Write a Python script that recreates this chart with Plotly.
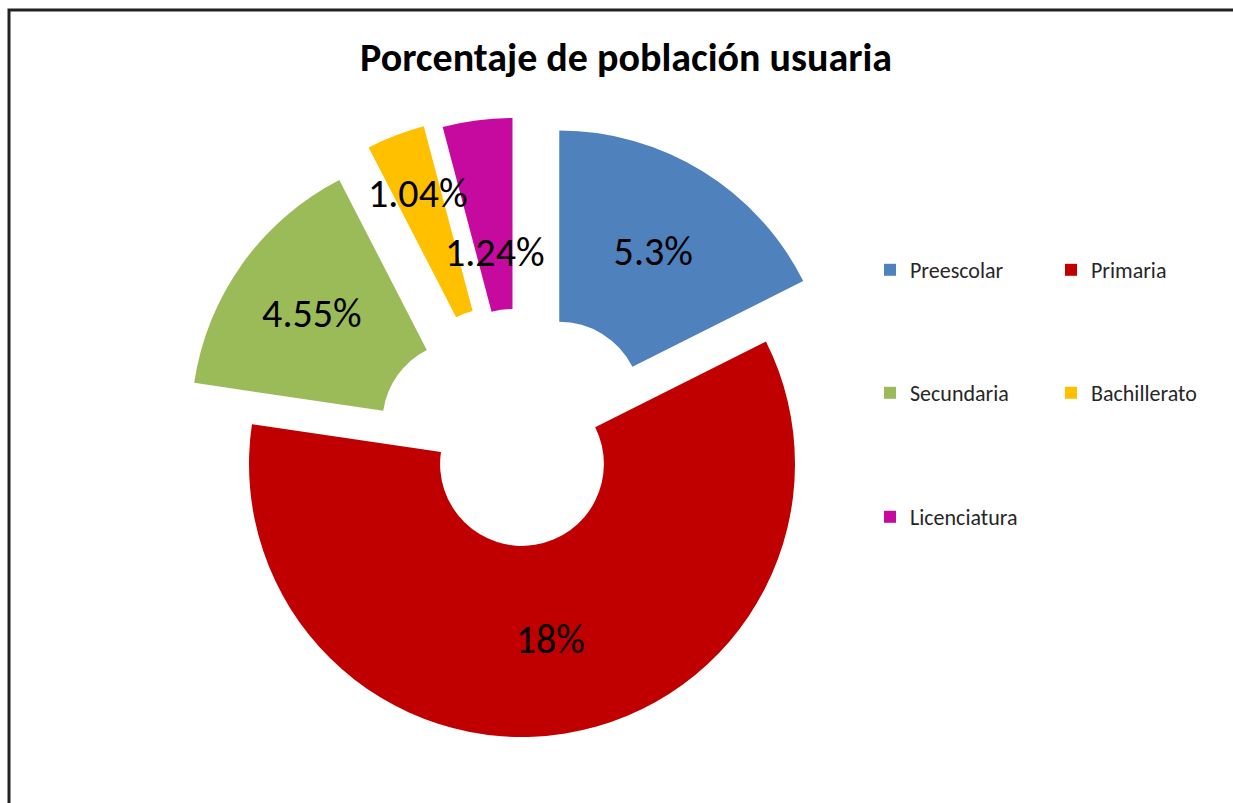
import math
import plotly.graph_objects as go

# ── Data ──
TITLE = "Porcentaje de población usuaria"
CATEGORIES = ["Preescolar", "Primaria", "Secundaria", "Bachillerato", "Licenciatura"]
VALUES = [5.3, 18, 4.55, 1.04, 1.24]
LABELS = ["5.3%", "18%", "4.55%", "1.04%", "1.24%"]
COLORS = ["#4F81BD", "#C00000", "#9BBB59", "#FFC000", "#C70A9F"]
EXPLODE = [0.26, 0, 0.26, 0.29, 0.27]          # slice offset, fraction of radius
LABEL_RADIUS = [None, None, None, 0.77, 0.51]  # narrow slices: label placed by hand

# ── Layout constants (px) ──
W, H = 1233, 803
CX, CY, R = 522, 464, 273
HOLE = 0.3
FONT = "Calibri, Carlito, Lato, sans-serif"
LABEL_SIZE = 40
TRANSPARENT = "rgba(0,0,0,0)"

total = sum(VALUES)
mids = []
acc = 0
for v in VALUES:
    mids.append((acc + v / 2) / total * 2 * math.pi)
    acc += v

fig = go.Figure()
annotations = []

# one pie per slice so each can be exploded by its own amount
for i, cat in enumerate(CATEGORIES):
    sx = CX + EXPLODE[i] * R * math.sin(mids[i])
    sy = CY - EXPLODE[i] * R * math.cos(mids[i])
    colors = [COLORS[j] if j == i else TRANSPARENT for j in range(len(VALUES))]
    text = [LABELS[j] if (j == i and LABEL_RADIUS[j] is None) else "" for j in range(len(VALUES))]
    fig.add_trace(go.Pie(
        labels=CATEGORIES,
        values=VALUES,
        sort=False,
        direction="clockwise",
        rotation=0,
        hole=HOLE,
        marker=dict(colors=colors, line=dict(width=0)),
        text=text,
        textinfo="text",
        textposition="inside",
        insidetextorientation="horizontal",
        textfont=dict(family=FONT, size=LABEL_SIZE, color="black"),
        hoverinfo="skip",
        showlegend=False,
        domain=dict(x=[(sx - R) / W, (sx + R) / W],
                    y=[1 - (sy + R) / H, 1 - (sy - R) / H]),
    ))
    if LABEL_RADIUS[i] is not None:
        lx = sx + LABEL_RADIUS[i] * R * math.sin(mids[i])
        ly = sy - LABEL_RADIUS[i] * R * math.cos(mids[i])
        annotations.append(dict(
            text=LABELS[i], x=lx / W, y=1 - ly / H, xref="paper", yref="paper",
            xanchor="center", yanchor="middle", showarrow=False,
            font=dict(family=FONT, size=LABEL_SIZE, color="black"),
        ))

# legend entries: two per row, each row its own legend
legend_names = ["legend", "legend2", "legend3"]
for i, cat in enumerate(CATEGORIES):
    fig.add_trace(go.Scatter(
        x=[None], y=[None], mode="markers", name=cat,
        marker=dict(symbol="square", size=12, color=COLORS[i]),
        legend=legend_names[i // 2], hoverinfo="skip",
    ))

legend_rows_y = [270, 393, 517]
legend_base = dict(orientation="h", x=870 / W, xanchor="left", yanchor="middle",
                   entrywidth=136, bgcolor=TRANSPARENT,
                   font=dict(family=FONT, size=22, color="#262626"))

fig.update_layout(
    width=W, height=H,
    margin=dict(l=0, r=0, t=0, b=0, autoexpand=False),
    paper_bgcolor="white", plot_bgcolor="white",
    title=dict(text=TITLE, x=626 / W, xanchor="center", y=1 - 57 / H, yanchor="middle",
               font=dict(family=FONT, size=40, color="black", weight="bold")),
    xaxis=dict(visible=False), yaxis=dict(visible=False),
    legend=dict(legend_base, y=1 - legend_rows_y[0] / H),
    legend2=dict(legend_base, y=1 - legend_rows_y[1] / H),
    legend3=dict(legend_base, y=1 - legend_rows_y[2] / H),
    annotations=annotations,
    shapes=[dict(type="rect", xref="paper", yref="paper",
                 x0=9 / W, y0=-0.05, x1=1.05, y1=1 - 10 / H,
                 line=dict(color="#222", width=3))],
)

fig.write_html("out.html", config={"displayModeBar": False},
               post_script="document.body.style.margin = '0';")
